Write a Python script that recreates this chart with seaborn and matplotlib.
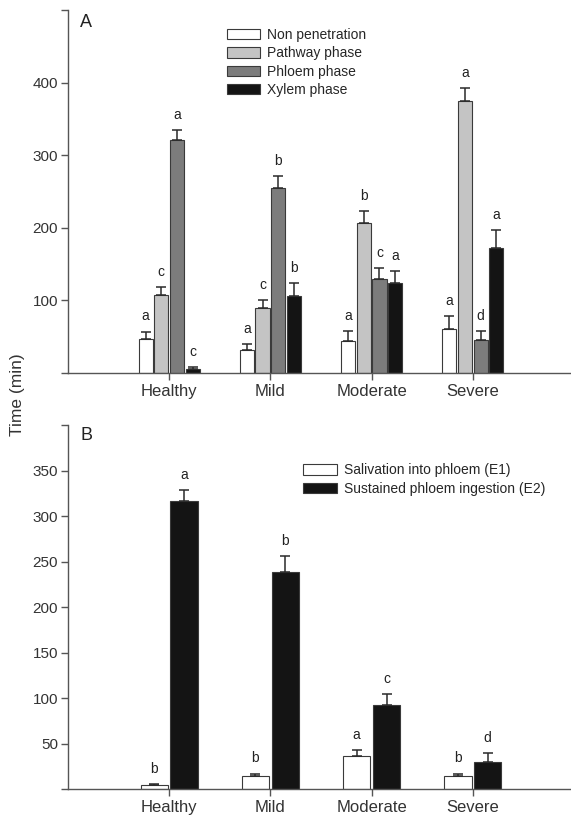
import pandas as pd
import matplotlib.pyplot as plt
import seaborn as sns

# Data
categories = ["Healthy", "Mild", "Moderate", "Severe"]

phases = ["Non penetration", "Pathway phase", "Phloem phase", "Xylem phase"]
non_pen = [47, 32, 44, 61]
non_pen_err = [10, 8, 14, 18]
pathway = [107, 90, 207, 375]
pathway_err = [11, 11, 16, 17]
phloem = [321, 255, 129, 45]
phloem_err = [14, 16, 15, 13]
xylem = [5, 106, 124, 172]
xylem_err = [3, 18, 17, 25]
letters_a = [["a", "a", "a", "a"],
             ["c", "c", "b", "a"],
             ["a", "b", "c", "d"],
             ["c", "b", "a", "a"]]

feeding = ["Salivation into phloem (E1)", "Sustained phloem ingestion (E2)"]
e1 = [4, 14, 36, 14]
e1_err = [1, 3, 7, 3]
e2 = [316, 239, 92, 30]
e2_err = [13, 17, 12, 10]
letters_b = [["b", "b", "a", "b"],
             ["a", "b", "c", "d"]]

colors_a = ["#ffffff", "#c4c4c4", "#7c7c7c", "#141414"]
colors_b = ["#ffffff", "#141414"]

sns.set_style("ticks")
plt.rcParams['font.family'] = ['Liberation Sans', 'DejaVu Sans']

# long tables for seaborn
df_a = pd.DataFrame({
    "condition": categories * 4,
    "phase": sum([[p] * 4 for p in phases], []),
    "time": non_pen + pathway + phloem + xylem,
    "err": non_pen_err + pathway_err + phloem_err + xylem_err,
})
df_b = pd.DataFrame({
    "condition": categories * 2,
    "phase": sum([[p] * 4 for p in feeding], []),
    "time": e1 + e2,
    "err": e1_err + e2_err,
})

fig = plt.figure(figsize=(5.71, 8.19), dpi=100)
ax1 = fig.add_axes([0.119, 0.5446, 0.881, 0.4432])
ax2 = fig.add_axes([0.119, 0.0366, 0.881, 0.4444])


def draw_panel(ax, df, hue_order, colors, width, gap, letters, yticks, ylim):
    sns.barplot(data=df, x="condition", y="time", hue="phase", order=categories,
                hue_order=hue_order, palette=colors, width=width, gap=gap,
                errorbar=None, edgecolor="#3a3a3a", linewidth=0.8,
                legend=False, ax=ax)
    bars = list(ax.containers)
    for i, cont in enumerate(bars):
        sub = df[df["phase"] == hue_order[i]]
        xs = [p.get_x() + p.get_width() / 2 for p in cont.patches]
        ys = sub["time"].tolist()
        errs = sub["err"].tolist()
        ax.errorbar(xs, ys, yerr=[[0] * len(errs), errs], fmt="none",
                    ecolor="#2a2a2a", elinewidth=1.1, capsize=3.6, capthick=1.1,
                    zorder=1)
        for x, y, e, lab in zip(xs, ys, errs, letters[i]):
            ax.annotate(lab, (x, y + e), xytext=(0, 8), textcoords="offset points",
                        ha="center", va="baseline", fontsize=10, color="#222222")
    ax.set_xlim(-1, 3.97)
    ax.set_ylim(*ylim)
    ax.set_yticks(yticks)
    ax.set_yticklabels([""] + [str(t) for t in yticks[1:-1]] + [""])
    ax.set_xlabel("")
    ax.set_ylabel("")
    sns.despine(ax=ax)
    for s in ["left", "bottom"]:
        ax.spines[s].set_color("#555555")
        ax.spines[s].set_linewidth(1.0)
    ax.tick_params(axis="both", direction="out", length=5, width=1.0,
                   color="#555555", labelcolor="#333333")
    ax.tick_params(axis="y", labelsize=11, pad=2)
    ax.tick_params(axis="x", labelsize=12, pad=3)
    return bars


bars_a = draw_panel(ax1, df_a, phases, colors_a, 0.62, 0.1, letters_a,
                    [0, 100, 200, 300, 400, 500], (0, 500))
bars_b = draw_panel(ax2, df_b, feeding, colors_b, 0.59, 0.085, letters_b,
                    [0, 50, 100, 150, 200, 250, 300, 350, 400], (0, 400))

ax1.legend(bars_a, phases, loc="upper left", bbox_to_anchor=(0.305, 0.965),
           frameon=False, fontsize=10, handlelength=2.4, handleheight=0.75,
           handletextpad=0.5, labelspacing=0.3, borderaxespad=0)
ax2.legend(bars_b, feeding, loc="upper left", bbox_to_anchor=(0.457, 0.91),
           frameon=False, fontsize=10, handlelength=2.4, handleheight=0.75,
           handletextpad=0.5, labelspacing=0.3, borderaxespad=0)

ax1.text(0.024, 0.99, "A", transform=ax1.transAxes, ha="left", va="top",
         fontsize=13, color="#222222")
ax2.text(0.024, 0.995, "B", transform=ax2.transAxes, ha="left", va="top",
         fontsize=13, color="#222222")

fig.text(0.03, 1 - 395 / 819, "Time (min)", rotation=90, ha="center",
         va="center", fontsize=12.5, color="#333333")

fig.savefig("out.png", dpi=100)
